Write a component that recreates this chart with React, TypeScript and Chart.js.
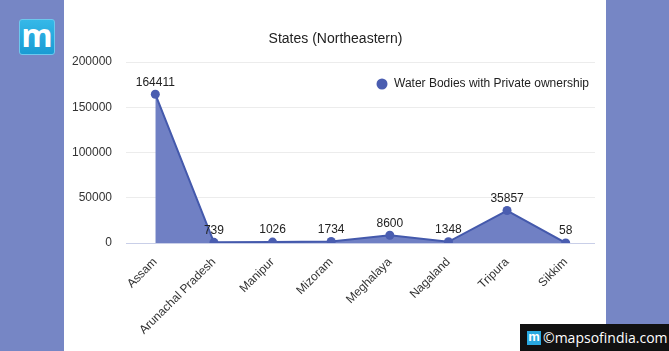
import React, { useEffect, useRef } from "react";
import { Chart, registerables } from "chart.js";

Chart.register(...registerables);

const categories = ["Assam", "Arunachal Pradesh", "Manipur", "Mizoram", "Meghalaya", "Nagaland", "Tripura", "Sikkim"];
const values = [164411, 739, 1026, 1734, 8600, 1348, 35857, 58];
const seriesName = "Water Bodies with Private ownership";
const chartTitle = "States (Northeastern)";
const yMax = 200000;
const yStep = 50000;

const FONT = "'Liberation Sans', Arial, sans-serif";
const PANEL = "#7686c5";

const overlayPlugin = {
  id: "overlay",
  afterDraw(chart: any) {
    const ctx = chart.ctx;
    const meta = chart.getDatasetMeta(0);
    ctx.save();
    // data labels
    ctx.font = `12px ${FONT}`;
    ctx.fillStyle = "#222";
    ctx.textAlign = "center";
    ctx.textBaseline = "bottom";
    meta.data.forEach((pt: any, i: number) => {
      ctx.fillText(String(values[i]), pt.x, pt.y - 6);
    });
    // title
    const ca = chart.chartArea;
    ctx.font = `14px ${FONT}`;
    ctx.fillStyle = "#222";
    ctx.textBaseline = "middle";
    ctx.fillText(chartTitle, (ca.left + ca.right) / 2 - 25, 39);
    // legend
    ctx.beginPath();
    ctx.arc(ca.right - 213, ca.top + 22, 5.5, 0, Math.PI * 2);
    ctx.fillStyle = "#4a5db0";
    ctx.fill();
    ctx.font = `12px ${FONT}`;
    ctx.fillStyle = "#222";
    ctx.textAlign = "left";
    ctx.fillText(seriesName, ca.right - 201, ca.top + 22);
    ctx.restore();
  },
};

export default function App() {
  const ref = useRef<HTMLCanvasElement | null>(null);
  useEffect(() => {
    document.body.style.margin = "0";
    const chart = new Chart(ref.current as HTMLCanvasElement, {
      type: "line",
      data: {
        labels: categories,
        datasets: [
          {
            label: seriesName,
            data: values,
            borderColor: "#4459ac",
            borderWidth: 2,
            backgroundColor: "#7080c4",
            fill: "origin",
            tension: 0,
            pointRadius: 4.5,
            pointBackgroundColor: "#4a5db0",
            pointBorderColor: "#4a5db0",
            pointBorderWidth: 0,
          },
        ],
      },
      options: {
        animation: false,
        responsive: false,
        layout: { padding: { left: 64, right: 74, top: 62, bottom: 0 } },
        plugins: { legend: { display: false }, title: { display: false }, tooltip: { enabled: false } },
        scales: {
          x: {
            offset: true,
            grid: { display: false },
            border: { display: false },
            ticks: {
              color: "#333",
              font: { family: FONT, size: 12 },
              maxRotation: 45,
              minRotation: 45,
              autoSkip: false,
              padding: 4,
            },
            afterFit: (s: any) => {
              s.height = 108;
            },
          },
          y: {
            min: 0,
            max: yMax,
            ticks: {
              stepSize: yStep,
              color: "#333",
              font: { family: FONT, size: 12 },
              padding: 14,
              callback: (v: any) => String(v),
            },
            grid: {
              drawTicks: false,
              color: (c: any) => (c.tick && c.tick.value === 0 ? "#c9cfe8" : "#ececec"),
              lineWidth: 1,
            },
            border: { display: false },
            afterFit: (s: any) => {
              s.width = 62;
            },
          },
        },
      },
      plugins: [overlayPlugin],
    } as any);
    return () => chart.destroy();
  }, []);

  return (
    <div style={{ position: "relative", width: 669, height: 351, background: "#fff", overflow: "hidden" }}>
      <div style={{ position: "absolute", left: 0, top: 0, width: 64, height: 351, background: PANEL }} />
      <div style={{ position: "absolute", left: 606, top: 0, width: 63, height: 351, background: PANEL }} />
      <div
        style={{
          position: "absolute",
          left: 19,
          top: 19,
          width: 36,
          height: 36,
          borderRadius: 3,
          background: "linear-gradient(#35b8e8, #1a9bd3)",
          boxSizing: "border-box",
          border: "1px solid #6cc8ee",
          color: "#fff",
          fontFamily: "'Open Sans', sans-serif",
          fontWeight: "bold",
          fontSize: 32,
          lineHeight: "30px",
          textAlign: "center",
        }}
      >
        m
      </div>
      <canvas ref={ref} width={669} height={351} style={{ position: "absolute", left: 0, top: 0 }} />
      <div
        style={{
          position: "absolute",
          left: 520,
          top: 324,
          width: 149,
          height: 27,
          background: "#111",
          display: "flex",
          alignItems: "center",
        }}
      >
        <div
          style={{
            marginLeft: 7,
            width: 14,
            height: 14,
            background: "#29a8e0",
            color: "#fff",
            fontFamily: FONT,
            fontWeight: "bold",
            fontSize: 13,
            lineHeight: "12px",
            textAlign: "center",
          }}
        >
          m
        </div>
        <div style={{ marginLeft: 2, color: "#fff", fontFamily: "'Open Sans', sans-serif", fontSize: 14, whiteSpace: "nowrap" }}>
          ©mapsofindia.com
        </div>
      </div>
    </div>
  );
}
